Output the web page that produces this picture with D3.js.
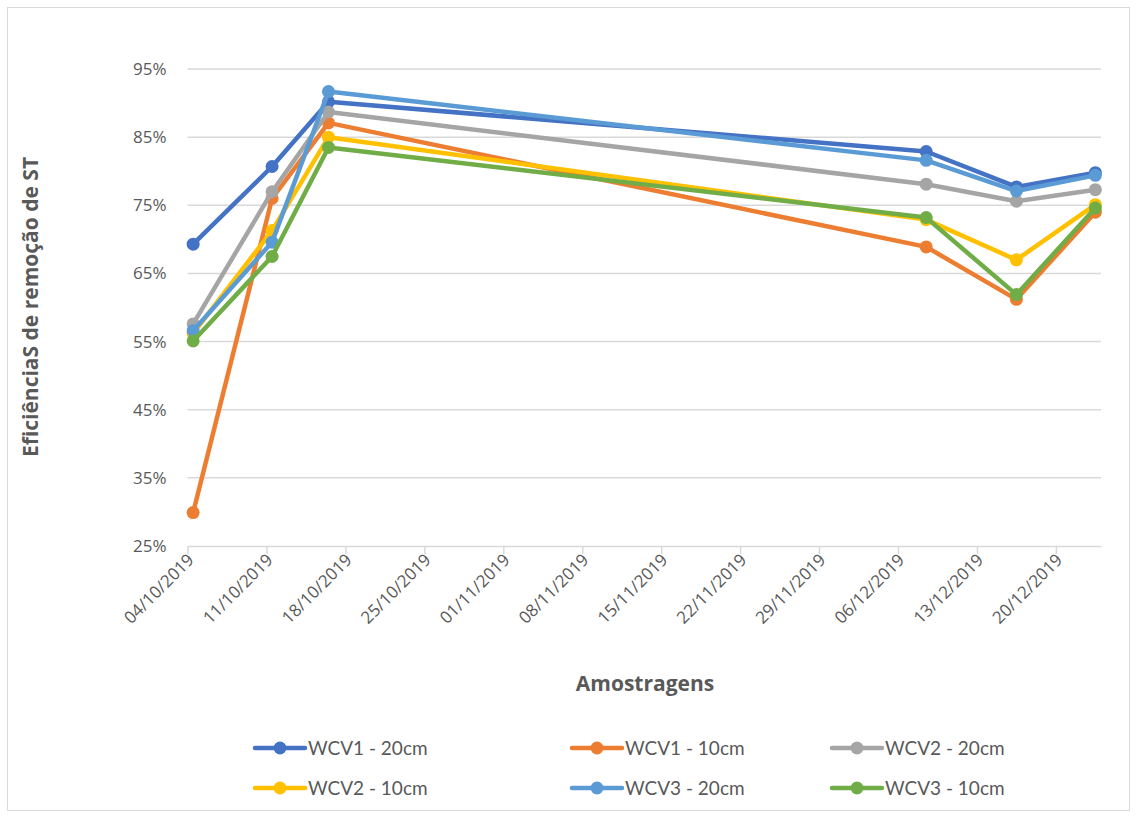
<!DOCTYPE html>
<html>
<head>
<meta charset="utf-8">
<script src="https://cdn.jsdelivr.net/npm/d3@7"></script>
<style>
  html, body { margin: 0; padding: 0; background: #fff; }
  svg { display: block; }
</style>
</head>
<body>
<svg id="chart" width="1136" height="819"></svg>
<script>
// Sampling dates (dd/mm/yyyy)
const sampleDates = ["04/10/2019", "11/10/2019", "16/10/2019", "08/12/2019", "16/12/2019", "23/12/2019"];

// Removal efficiency of total solids per series
const seriesNames = ["WCV1 - 20cm", "WCV1 - 10cm", "WCV2 - 20cm", "WCV2 - 10cm", "WCV3 - 20cm", "WCV3 - 10cm"];
const wcv1_20 = [0.693, 0.807, 0.902, 0.829, 0.777, 0.798];
const wcv1_10 = [0.299, 0.760, 0.871, 0.689, 0.612, 0.740];
const wcv2_20 = [0.576, 0.770, 0.887, 0.781, 0.756, 0.773];
const wcv2_10 = [0.562, 0.713, 0.850, 0.729, 0.670, 0.751];
const wcv3_20 = [0.566, 0.696, 0.917, 0.816, 0.771, 0.794];
const wcv3_10 = [0.551, 0.675, 0.835, 0.732, 0.619, 0.746];
const seriesColors = ["#4472C4", "#ED7D31", "#A5A5A5", "#FFC000", "#5B9BD5", "#70AD47"];

// Axis ticks
const yTicks = [0.25, 0.35, 0.45, 0.55, 0.65, 0.75, 0.85, 0.95];
const xTickLabels = ["04/10/2019", "11/10/2019", "18/10/2019", "25/10/2019", "01/11/2019", "08/11/2019",
  "15/11/2019", "22/11/2019", "29/11/2019", "06/12/2019", "13/12/2019", "20/12/2019"];
const axisStart = "04/10/2019";
const axisEnd = "24/12/2019";

const parse = d3.timeParse("%d/%m/%Y");
const fmt = d3.timeFormat("%d/%m/%Y");
const allValues = [wcv1_20, wcv1_10, wcv2_20, wcv2_10, wcv3_20, wcv3_10];
const series = seriesNames.map((name, i) => ({
  name,
  color: seriesColors[i],
  points: sampleDates.map((d, j) => ({ date: d3.timeHour.offset(parse(d), 12), value: allValues[i][j] }))
}));

const svg = d3.select("#chart");
const plot = { left: 187.5, right: 1101, top: 35, bottom: 546 };

// Outer frame
svg.append("rect")
  .attr("x", 7.5).attr("y", 7.5).attr("width", 1122).attr("height", 803)
  .attr("fill", "#fff").attr("stroke", "#d9d9d9").attr("stroke-width", 1);

const x = d3.scaleTime()
  .domain([parse(axisStart), parse(axisEnd)])
  .range([plot.left, plot.right]);
const y = d3.scaleLinear()
  .domain([0.25, 1.0])
  .range([plot.bottom, plot.top]);

// Horizontal gridlines
svg.append("g")
  .selectAll("line")
  .data(yTicks.slice(1))
  .join("line")
  .attr("x1", plot.left).attr("x2", plot.right)
  .attr("y1", d => y(d)).attr("y2", d => y(d))
  .attr("stroke", "#d9d9d9").attr("stroke-width", 1.5);

// Y axis labels
const yAxis = d3.axisLeft(y).tickValues(yTicks).tickFormat(d3.format(".0%")).tickSize(0).tickPadding(21);
const gy = svg.append("g").attr("transform", `translate(${plot.left},0)`).call(yAxis);
gy.select(".domain").remove();
gy.selectAll("text")
  .attr("font-family", "'Open Sans', sans-serif")
  .attr("font-size", 17)
  .attr("fill", "#595959");

// X axis
const xAxis = d3.axisBottom(x)
  .tickValues(xTickLabels.map(parse))
  .tickFormat(fmt)
  .tickSize(8)
  .tickSizeOuter(0)
  .tickPadding(6);
const gx = svg.append("g").attr("transform", `translate(0,${plot.bottom})`).call(xAxis);
gx.select(".domain").attr("stroke", "#d9d9d9").attr("stroke-width", 1.5);
gx.selectAll(".tick line").attr("stroke", "#d9d9d9").attr("stroke-width", 1.5);
gx.selectAll("text")
  .attr("font-family", "'Open Sans', sans-serif")
  .attr("font-size", 17)
  .attr("fill", "#595959")
  .attr("text-anchor", "end")
  .attr("dy", null)
  .attr("transform", "translate(7,15) rotate(-45)")
  .attr("y", 0).attr("x", 0);

// Series lines and markers
const line = d3.line().x(d => x(d.date)).y(d => y(d.value));
const gs = svg.append("g");
series.forEach(s => {
  const g = gs.append("g");
  g.append("path")
    .datum(s.points)
    .attr("d", line)
    .attr("fill", "none")
    .attr("stroke", s.color)
    .attr("stroke-width", 4.5)
    .attr("stroke-linejoin", "round");
  g.selectAll("circle")
    .data(s.points)
    .join("circle")
    .attr("cx", d => x(d.date))
    .attr("cy", d => y(d.value))
    .attr("r", 6.5)
    .attr("fill", s.color);
});

// Axis titles
svg.append("text")
  .attr("x", 645).attr("y", 691)
  .attr("text-anchor", "middle")
  .attr("font-family", "'Open Sans', sans-serif")
  .attr("font-weight", "bold")
  .attr("font-size", 21)
  .attr("fill", "#595959")
  .text("Amostragens");

svg.append("text")
  .attr("transform", "translate(38,307) rotate(-90)")
  .attr("text-anchor", "middle")
  .attr("font-family", "'Open Sans', sans-serif")
  .attr("font-weight", "bold")
  .attr("font-size", 21)
  .attr("fill", "#595959")
  .text("EficiênciaS de remoção de ST");

// Legend
const legendCols = [255, 572, 832];
const legendRows = [748, 788];
const lg = svg.append("g");
series.forEach((s, i) => {
  const lx = legendCols[i % 3];
  const ly = legendRows[Math.floor(i / 3)];
  const item = lg.append("g").attr("transform", `translate(${lx},${ly})`);
  item.append("line")
    .attr("x1", 0).attr("x2", 50).attr("y1", 0).attr("y2", 0)
    .attr("stroke", s.color).attr("stroke-width", 4.5).attr("stroke-linecap", "round");
  item.append("circle").attr("cx", 25).attr("cy", 0).attr("r", 6.5).attr("fill", s.color);
  item.append("text")
    .attr("x", 53).attr("y", 0).attr("dy", "0.35em")
    .attr("font-family", "Lato, sans-serif")
    .attr("font-size", 19)
    .attr("fill", "#595959")
    .text(s.name);
});
</script>
</body>
</html>
